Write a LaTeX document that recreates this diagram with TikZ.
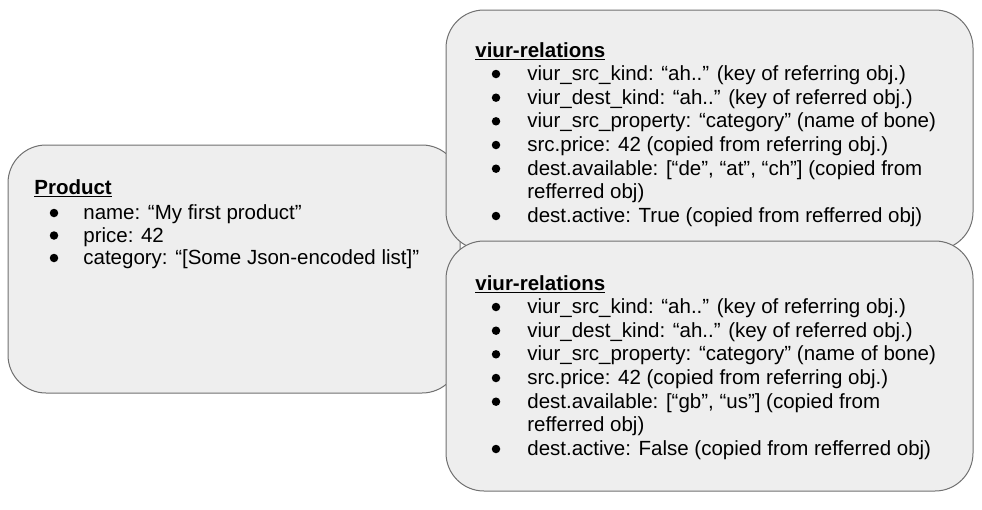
\documentclass[tikz,border=0pt]{standalone}
\usepackage{fontspec}
\setmainfont{Liberation Sans}
\definecolor{boxfill}{HTML}{EEEEEE}
\definecolor{boxline}{HTML}{707070}
\tikzset{every picture/.style={line width=0.75pt}}
\tikzset{
  entitybox/.style={draw=boxline, fill=boxfill, line width=1pt, rounded corners=38pt},
  txt/.style={anchor=base west, inner sep=0pt, font=\fontsize{20.5}{23}\selectfont},
  bul/.style={circle, fill=black, inner sep=0pt, minimum size=8.5pt}
}

\begin{document}
\begin{tikzpicture}[x=1pt,y=1pt,yscale=-1,xscale=1]
\useasboundingbox (0,0) rectangle (982,509);

%Shape: Rounded Rect (product)
\draw [entitybox] (8,145) rectangle (460,393);
%Shape: Rounded Rect (relations, first)
\draw [entitybox] (446,10) rectangle (973,250);
%Shape: Rounded Rect (relations, second)
\draw [entitybox] (446,241) rectangle (973,491);

% Text Node
\node [txt] (prodTitle) at (34,194.5) {\textbf{\underline{Product}}};
\node [bul] (prodB1) at (54,213) {};
\node [txt] (prodName) at (83,219.5) {name: “My first product”};
\node [bul] (prodB2) at (54,235.5) {};
\node [txt] (prodPrice) at (83,242) {price: 42};
\node [bul] (prodB3) at (54,258) {};
\node [txt] (prodCat) at (83,264.5) {category: “[Some Json-encoded list]”};

% Text Node
\node [txt] (relATitle) at (475,57.5) {\textbf{\underline{viur-relations}}};
\node [bul] (relAB1) at (496,74) {};
\node [txt] (relASrcKind) at (527,80.5) {viur\_src\_kind: “ah..” (key of referring obj.)};
\node [bul] (relAB2) at (496,97.7) {};
\node [txt] (relADestKind) at (527,104.2) {viur\_dest\_kind: “ah..” (key of referred obj.)};
\node [bul] (relAB3) at (496,121.3) {};
\node [txt] (relAProp) at (527,127.8) {viur\_src\_property: “category” (name of bone)};
\node [bul] (relAB4) at (496,145) {};
\node [txt] (relAPrice) at (527,151.5) {src.price: 42 (copied from referring obj.)};
\node [bul] (relAB5) at (496,168.7) {};
\node [txt] (relAAvail) at (527,175.2) {dest.available: [“de”, “at”, “ch”] (copied from};
\node [txt] (relAAvail2) at (527,198.8) {refferred obj)};
\node [bul] (relAB6) at (496,216) {};
\node [txt] (relAActive) at (527,222.5) {dest.active: True (copied from refferred obj)};

% Text Node
\node [txt] (relBTitle) at (475,290.5) {\textbf{\underline{viur-relations}}};
\node [bul] (relBB1) at (496,307) {};
\node [txt] (relBSrcKind) at (527,313.5) {viur\_src\_kind: “ah..” (key of referring obj.)};
\node [bul] (relBB2) at (496,330.7) {};
\node [txt] (relBDestKind) at (527,337.2) {viur\_dest\_kind: “ah..” (key of referred obj.)};
\node [bul] (relBB3) at (496,354.3) {};
\node [txt] (relBProp) at (527,360.8) {viur\_src\_property: “category” (name of bone)};
\node [bul] (relBB4) at (496,378) {};
\node [txt] (relBPrice) at (527,384.5) {src.price: 42 (copied from referring obj.)};
\node [bul] (relBB5) at (496,401.7) {};
\node [txt] (relBAvail) at (527,408.2) {dest.available: [“gb”, “us”] (copied from};
\node [txt] (relBAvail2) at (527,431.8) {refferred obj)};
\node [bul] (relBB6) at (496,449) {};
\node [txt] (relBActive) at (527,455.5) {dest.active: False (copied from refferred obj)};
\end{tikzpicture}
\end{document}
